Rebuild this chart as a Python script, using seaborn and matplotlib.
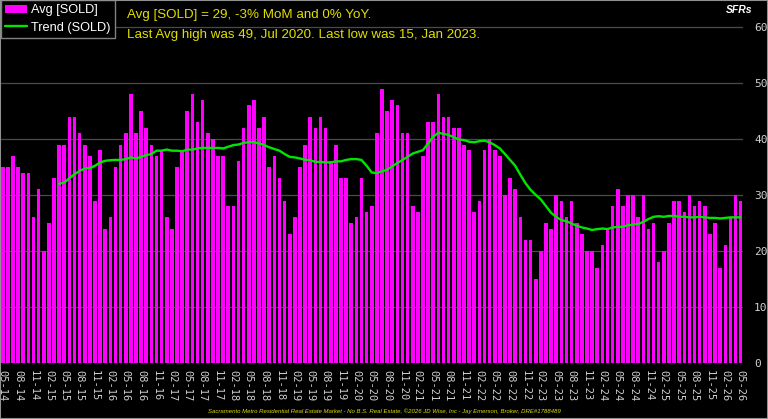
import matplotlib
matplotlib.use("Agg")
import matplotlib.pyplot as plt
import seaborn as sns
import pandas as pd
from matplotlib.patches import Rectangle

# ---------------- data ----------------
avg_sold = [
    35, 35, 37, 35, 34, 34, 26, 31, 20, 25, 33, 39, 39, 44, 44, 41, 39, 37, 29, 38,
    24, 26, 35, 39, 41, 48, 41, 45, 42, 39, 37, 38, 26, 24, 35, 38, 45, 48, 43, 47,
    41, 40, 37, 37, 28, 28, 36, 42, 46, 47, 42,
    44, 35, 37, 33, 29, 23, 26, 35, 39, 44, 42, 44, 42, 36, 39, 33, 33, 25, 26, 33,
    27, 28, 41, 49, 45, 47, 46, 41, 41, 28, 27, 37, 43, 43, 48, 44, 44, 42, 42, 39,
    38, 27, 29, 38, 40, 38, 37, 30, 33,
    31, 26, 22, 22, 15, 20, 25, 24, 30, 29, 26, 29, 25, 23, 20, 20, 17, 21, 24, 28,
    31, 28, 30, 30, 26, 30, 24, 25, 18, 20, 25, 29, 29, 27, 30, 28, 29, 28, 23, 25,
    17, 21, 26, 30, 29,
]

trend_start = 11
trend_sold = [
    32.0, 32.2, 33.0, 33.7, 34.3, 34.7, 34.8, 35.2, 35.8, 36.1, 36.2, 36.25, 36.25,
    36.4, 36.7, 36.5, 36.8, 37.1, 37.3, 37.9, 37.9, 38.1, 37.9, 37.9, 37.8, 38.1,
    38.1, 38.3, 38.4, 38.4, 38.4, 38.4, 38.3, 38.6, 38.9, 39.0, 39.3, 39.4, 39.4, 39.2,
    38.9, 38.5, 38.2, 37.9, 37.3, 36.8, 36.7, 36.5, 36.3, 36.2, 35.9, 35.9, 35.8,
    35.8, 36.0, 36.0, 36.25, 36.4, 36.4, 36.25, 35.2, 34.0, 33.9, 34.2, 34.5, 35.1,
    35.7, 36.25, 36.8, 37.4, 37.7, 38.0, 39.2, 40.4, 41.1, 40.9, 40.7, 40.3, 39.9,
    39.8, 39.5, 39.4, 39.6, 39.7, 39.4, 38.9,
    38.3, 37.3, 36.25, 35.2, 33.6, 32.1, 30.9, 30.0, 29.2, 28.0, 26.8, 26.1, 25.5,
    25.3, 24.9, 24.5, 24.2, 24.0, 23.75, 23.9, 24.0, 23.9, 24.2, 24.3, 24.3, 24.6,
    24.7, 24.8, 25.2, 25.7, 26.1, 26.2, 26.1, 26.25, 26.25, 26.1, 26.1, 26.0, 26.0,
    26.1, 26.0, 25.9, 25.9, 25.8, 25.9, 26.0, 26.0, 26.0,
]

tick_labels = [
    "05-14", "08-14", "11-14", "02-15", "05-15", "08-15", "11-15",
    "02-16", "05-16", "08-16", "11-16", "02-17", "05-17", "08-17", "11-17",
    "02-18", "05-18", "08-18", "11-18", "02-19", "05-19", "08-19", "11-19",
    "02-20", "05-20", "08-20", "11-20", "02-21", "05-21", "08-21", "11-21",
    "02-22", "05-22", "08-22", "11-22", "02-23", "05-23", "08-23", "11-23",
    "02-24", "05-24", "08-24", "11-24", "02-25", "05-25", "08-25", "11-25",
    "02-26", "05-26",
]
tick_step = 3
y_ticks = [0, 10, 20, 30, 40, 50, 60]

headline_1 = "Avg [SOLD] = 29, -3% MoM and 0% YoY."
headline_2 = "Last Avg high was 49, Jul 2020. Last low was 15, Jan 2023."
footer = ("Sacramento Metro Residential Real Estate Market - No B.S. Real Estate, "
          "\u00a92026 JD Wise, Inc - Jay Emerson, Broker, DRE#1788489")

# ---------------- frames ----------------
n = len(avg_sold)
bars_df = pd.DataFrame({"pos": list(range(n)), "avg": avg_sold})
trend_df = pd.DataFrame({"pos": list(range(trend_start, trend_start + len(trend_sold))),
                         "trend": trend_sold})

# ---------------- style ----------------
sns.set_theme(style="dark")
plt.rcParams["font.family"] = ["Liberation Sans", "DejaVu Sans"]

W, H = 768, 419
fig = plt.figure(figsize=(W / 100, H / 100), dpi=100, facecolor="black")
ax = fig.add_axes([1 / W, 56 / H, 742 / W, 363 / H])
ax.set_facecolor("black")

sns.barplot(data=bars_df, x="pos", y="avg", native_scale=True, color="#ff00ff",
            saturation=1, width=0.7, ax=ax, label="Avg [SOLD]", zorder=2,
            edgecolor="none", linewidth=0)
sns.lineplot(data=trend_df, x="pos", y="trend", color="#00e600", linewidth=1.7,
             ax=ax, label="Trend (SOLD)", zorder=3)

ax.set_xlim(-0.35, 144.45)
ax.set_ylim(0, 64.8)
ax.set_xlabel("")
ax.set_ylabel("")

ax.yaxis.tick_right()
ax.set_yticks(y_ticks)
ax.set_yticklabels([str(v) for v in y_ticks], family="DejaVu Sans Mono",
                   fontsize=8, color="#d0d0d0")
ax.tick_params(axis="y", length=0, pad=8)

ax.set_xticks(list(range(0, n, tick_step)))
ax.set_xticklabels(tick_labels, rotation=-90, family="DejaVu Sans Mono",
                   fontsize=7.5, color="#d0d0d0")
ax.tick_params(axis="x", length=0, pad=5)

ax.grid(axis="y", color="#4a4a4a", linewidth=0.9)
ax.grid(axis="x", visible=False)
ax.set_axisbelow(True)
for s in ax.spines.values():
    s.set_visible(False)

handles, labels = ax.get_legend_handles_labels()
order = [labels.index("Avg [SOLD]"), labels.index("Trend (SOLD)")]
leg = ax.legend([handles[i] for i in order], [labels[i] for i in order],
                loc="upper left", bbox_to_anchor=(0, 1), borderaxespad=0,
                fontsize=9.2, frameon=True, fancybox=False, framealpha=1,
                facecolor="black", edgecolor="#808080", handlelength=1.7,
                handletextpad=0.3, labelspacing=0.4, borderpad=0.35)
for t in leg.get_texts():
    t.set_color("white")
leg.get_frame().set_linewidth(1.0)

fig.text(127 / W, 1 - 15 / H, headline_1, color="#e0e000", fontsize=9.6,
         ha="left", va="center")
fig.text(127 / W, 1 - 35 / H, headline_2, color="#e0e000", fontsize=9.6,
         ha="left", va="center")
fig.text(752 / W, 1 - 10 / H, "SFRs", color="white", fontsize=7.5,
         style="italic", weight="bold", ha="right", va="center")
fig.text(384 / W, 1 - 411 / H, footer, color="#e0e000", fontsize=4.3,
         style="italic", ha="center", va="center")

fig.add_artist(Rectangle((0, 0), 1, 1, transform=fig.transFigure, fill=False,
                         edgecolor="#909090", linewidth=1.5))

fig.savefig("out.png", dpi=100, facecolor="black")
